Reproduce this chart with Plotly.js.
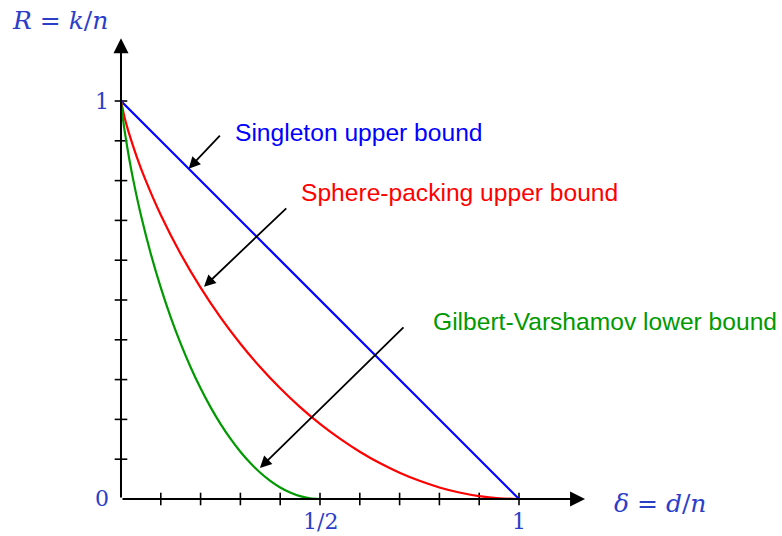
<!DOCTYPE html>
<html>
<head>
<meta charset="utf-8">
<script src="https://cdn.plot.ly/plotly-3.0.1.min.js"></script>
<style>
  html, body { margin: 0; padding: 0; background: #fff; }
  #chart { width: 782px; height: 536px; }
</style>
</head>
<body>
<div id="chart"></div>
<script>
// Relative distance delta = d/n and rate R = k/n for three bounds on codes.
const singletonDelta = [0, 1];
const singletonRate  = [1, 0];

const gvDelta = [0, 0.005, 0.01, 0.02, 0.03, 0.05, 0.075, 0.1, 0.125, 0.15, 0.175, 0.2,
                 0.225, 0.25, 0.275, 0.3, 0.325, 0.35, 0.375, 0.4, 0.425, 0.45, 0.475, 0.5];
const gvRate  = [1, 0.9546, 0.9192, 0.8586, 0.8056, 0.7136, 0.6157, 0.531, 0.4564, 0.3902, 0.331, 0.2781,
                 0.2308, 0.1887, 0.1515, 0.1187, 0.0902, 0.0659, 0.0456, 0.029, 0.0163, 0.0072, 0.0018, 0];

const spDelta = [0, 0.01, 0.02, 0.04, 0.06, 0.1, 0.15, 0.2, 0.25, 0.3, 0.35, 0.4,
                 0.45, 0.5, 0.55, 0.6, 0.65, 0.7, 0.75, 0.8, 0.85, 0.9, 0.95, 1];
const spRate  = [1, 0.9546, 0.9192, 0.8586, 0.8056, 0.7136, 0.6157, 0.531, 0.4564, 0.3902, 0.331, 0.2781,
                 0.2308, 0.1887, 0.1515, 0.1187, 0.0902, 0.0659, 0.0456, 0.029, 0.0163, 0.0072, 0.0018, 0];

// Axis ticks and labels
const xTicks = [0.1, 0.2, 0.3, 0.4, 0.5, 0.6, 0.7, 0.8, 0.9, 1.0];
const yTicks = [0.1, 0.2, 0.3, 0.4, 0.5, 0.6, 0.7, 0.8, 0.9, 1.0];
const xTickLabels = [{v: 0.5, t: '1/2'}, {v: 1, t: '1'}];
const yTickLabels = [{v: 0, t: '0'}, {v: 1, t: '1'}];

const xEnd = 1.166, yEnd = 1.158;

const mathBlue = '#2b3ec8';
const mathFont = {family: 'DejaVu Serif, serif', size: 22, color: mathBlue};
const axisTitleFont = {family: 'DejaVu Serif, serif', size: 25, color: mathBlue};
const labelFont = 'Liberation Sans, Arial, sans-serif';
const labelSize = 24.6;

const traces = [
  {x: xTicks, y: xTicks.map(() => 0), mode: 'markers', hoverinfo: 'skip',
   marker: {symbol: 'line-ns', size: 9, line: {color: '#000', width: 1.6}}},
  {x: yTicks.map(() => 0), y: yTicks, mode: 'markers', hoverinfo: 'skip',
   marker: {symbol: 'line-ew', size: 9, line: {color: '#000', width: 1.6}}},
  {x: singletonDelta, y: singletonRate, mode: 'lines', line: {color: '#0000ff', width: 2.2}},
  {x: spDelta, y: spRate, mode: 'lines', line: {color: '#ff0000', width: 2.2, shape: 'spline', smoothing: 0.8}},
  {x: gvDelta, y: gvRate, mode: 'lines', line: {color: '#009a00', width: 2.2, shape: 'spline', smoothing: 0.8}}
];

function arrow(x, y, ax, ay, w, s) {
  return {x: x, y: y, ax: ax, ay: ay, xref: 'x', yref: 'y', axref: 'x', ayref: 'y',
          text: '', showarrow: true, arrowhead: 2, arrowsize: s || 1.3, arrowwidth: w, arrowcolor: '#000'};
}
function label(x, y, text, font, xanchor) {
  return {x: x, y: y, xref: 'x', yref: 'y', text: text, showarrow: false,
          xanchor: xanchor || 'left', yanchor: 'middle', font: font};
}

const annotations = [
  arrow(xEnd, 0, 0, 0, 2, 1.5),
  arrow(0, yEnd, 0, 0, 2, 1.5),
  arrow(0.17, 0.83, 0.252, 0.917, 1.8),
  arrow(0.2085, 0.533, 0.419, 0.734, 1.8),
  arrow(0.349, 0.078, 0.7135, 0.435, 1.8),
  label(0.282, 0.922, 'Singleton upper bound', {family: labelFont, size: labelSize, color: '#0000ff'}),
  label(0.447, 0.771, 'Sphere-packing upper bound', {family: labelFont, size: labelSize, color: '#ff0000'}),
  label(0.778, 0.445, 'Gilbert-Varshamov lower bound', {family: labelFont, size: labelSize, color: '#009a00'}),
  label(-0.279, 1.203, '<i>R</i> = <i>k</i>/<i>n</i>', axisTitleFont, 'left'),
  label(1.234, -0.012, '<i>δ</i> = <i>d</i>/<i>n</i>', axisTitleFont, 'left')
];
xTickLabels.forEach(t => annotations.push({x: t.v, y: -0.02, xref: 'x', yref: 'y', text: t.t,
  showarrow: false, xanchor: 'center', yanchor: 'top', font: mathFont}));
yTickLabels.forEach(t => annotations.push({x: -0.025, y: t.v, xref: 'x', yref: 'y', text: t.t,
  showarrow: false, xanchor: 'right', yanchor: 'middle', font: mathFont}));

const hidden = {visible: false, fixedrange: true};
const layout = {
  width: 782, height: 536,
  margin: {l: 0, r: 0, t: 0, b: 0},
  paper_bgcolor: '#fff', plot_bgcolor: '#fff',
  showlegend: false,
  xaxis: Object.assign({range: [-0.3040, 1.6608]}, hidden),
  yaxis: Object.assign({range: [-0.0930, 1.2538]}, hidden),
  annotations: annotations
};

Plotly.newPlot('chart', traces, layout, {displayModeBar: false, staticPlot: true});
</script>
</body>
</html>
